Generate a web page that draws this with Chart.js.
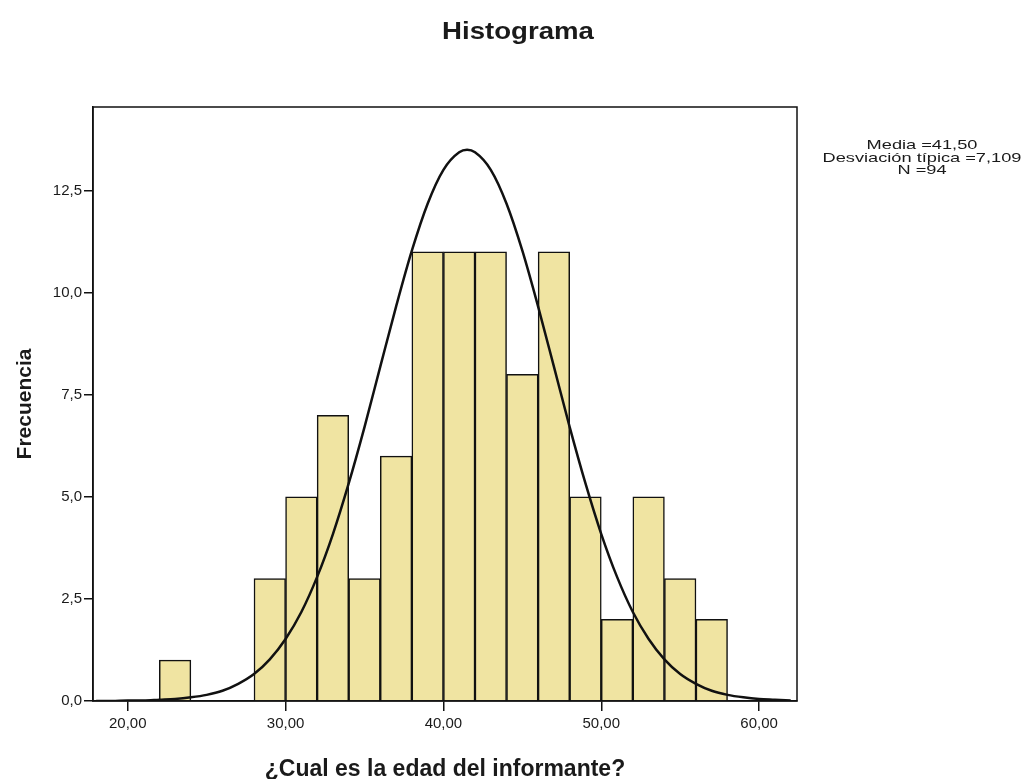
<!DOCTYPE html>
<html>
<head>
<meta charset="utf-8">
<script src="https://cdn.jsdelivr.net/npm/chart.js@4.4.1/dist/chart.umd.min.js"></script>
<style>
  html, body { margin: 0; padding: 0; background: #ffffff; }
  #wrap { width: 1027px; height: 779px; }
</style>
</head>
<body>
<div id="wrap"><canvas id="c" width="1027" height="779"></canvas></div>
<script>
// ---- data ----
const chartTitle = 'Histograma';
const xAxisTitle = '¿Cual es la edad del informante?';
const yAxisTitle = 'Frecuencia';
const statLines = ['Media =41,50', 'Desviación típica =7,109', 'N =94'];

// histogram bins (centres of 2-year bins) and frequencies
const binCenters = [23, 29, 31, 33, 35, 37, 39, 41, 43, 45, 47, 49, 51, 53, 55, 57];
const frequencies = [1, 3, 5, 7, 3, 6, 11, 11, 11, 8, 11, 5, 2, 5, 3, 2];

// normal curve
const curveX = [18, 19, 20, 21, 22, 23, 24, 25, 26, 27, 28, 29, 30, 31, 32, 33, 34, 35, 36, 37, 38, 39, 40, 41, 41.5,
                42, 43, 44, 45, 46, 47, 48, 49, 50, 51, 52, 53, 54, 55, 56, 57, 58, 59, 60, 61, 62];
const curveY = [0.00, 0.00, 0.01, 0.01, 0.03, 0.05, 0.09, 0.15, 0.25, 0.42, 0.66, 1.02, 1.52, 2.18, 3.04, 4.09, 5.33, 6.71, 8.19, 9.66, 11.03, 12.18, 13.01, 13.44, 13.5,
                13.44, 13.01, 12.18, 11.03, 9.66, 8.19, 6.71, 5.33, 4.09, 3.04, 2.18, 1.52, 1.02, 0.66, 0.42, 0.25, 0.15, 0.09, 0.05, 0.03, 0.01];

const xTicks = [20, 30, 40, 50, 60];
const yTicks = [0, 2.5, 5, 7.5, 10, 12.5];

// ---- chart ----
const FONT = '"Liberation Sans", Arial, sans-serif';
const barData = binCenters.map((x, i) => ({ x: x, y: frequencies[i] }));
const lineData = curveX.map((x, i) => ({ x: x, y: curveY[i] }));

function drawStretched(ctx, text, cx, baseline, font, sx) {
  ctx.save();
  ctx.font = font;
  ctx.fillStyle = '#1a1a1a';
  ctx.textAlign = 'center';
  ctx.textBaseline = 'alphabetic';
  ctx.translate(cx, baseline);
  ctx.scale(sx, 1);
  ctx.fillText(text, 0, 0);
  ctx.restore();
}

const decor = {
  id: 'decor',
  afterDraw(chart) {
    const ctx = chart.ctx;
    const a = chart.chartArea;
    ctx.save();
    ctx.strokeStyle = '#111';
    ctx.lineWidth = 1.5;
    ctx.strokeRect(a.left, a.top, a.right - a.left, a.bottom - a.top);
    ctx.restore();
    drawStretched(ctx, chartTitle, 518, 39, 'bold 24px ' + FONT, 1.15);
    statLines.forEach((t, i) => drawStretched(ctx, t, 922, 149 + i * 12.5, '13px ' + FONT, 1.4));
  }
};

new Chart(document.getElementById('c'), {
  type: 'bar',
  data: {
    datasets: [
      {
        type: 'line',
        data: lineData,
        borderColor: '#111',
        borderWidth: 2.5,
        pointRadius: 0,
        fill: false,
        cubicInterpolationMode: 'monotone',
        order: 0
      },
      {
        type: 'bar',
        data: barData,
        backgroundColor: '#f0e4a2',
        borderColor: '#111',
        borderWidth: 1.5,
        barPercentage: 1,
        categoryPercentage: 1,
        order: 1
      }
    ]
  },
  plugins: [decor],
  options: {
    responsive: false,
    animation: false,
    devicePixelRatio: 1,
    layout: { padding: { top: 107, right: 230, left: 0, bottom: 0 } },
    plugins: { legend: { display: false }, tooltip: { enabled: false }, title: { display: false } },
    scales: {
      x: {
        type: 'linear',
        min: 17.8,
        max: 62.4,
        offset: false,
        afterBuildTicks: (s) => { s.ticks = xTicks.map(v => ({ value: v })); },
        afterFit: (s) => { s.height = 78; },
        border: { display: true, color: '#111', width: 1.5 },
        grid: { offset: false, drawOnChartArea: false, drawTicks: true, tickLength: 10, color: '#111', lineWidth: 1.5 },
        ticks: {
          color: '#1a1a1a',
          font: { family: FONT, size: 15 },
          padding: 4,
          maxRotation: 0,
          callback: (v) => Number(v).toFixed(2).replace('.', ',')
        },
        title: {
          display: true,
          text: xAxisTitle,
          color: '#1a1a1a',
          font: { family: FONT, size: 23, weight: 'bold' },
          padding: { top: 0, bottom: -4 }
        }
      },
      y: {
        min: 0,
        max: 14.55,
        afterBuildTicks: (s) => { s.ticks = yTicks.map(v => ({ value: v })); },
        afterFit: (s) => { s.width = 93; },
        border: { display: true, color: '#111', width: 1.5 },
        grid: { offset: false, drawOnChartArea: false, drawTicks: true, tickLength: 9, color: '#111', lineWidth: 1.5 },
        ticks: {
          color: '#1a1a1a',
          font: { family: FONT, size: 15 },
          padding: 2,
          callback: (v) => Number(v).toFixed(1).replace('.', ',')
        },
        title: {
          display: true,
          text: yAxisTitle,
          color: '#1a1a1a',
          font: { family: FONT, size: 21, weight: 'bold' },
          padding: { top: 13, bottom: 0 }
        }
      }
    }
  }
});
</script>
</body>
</html>
